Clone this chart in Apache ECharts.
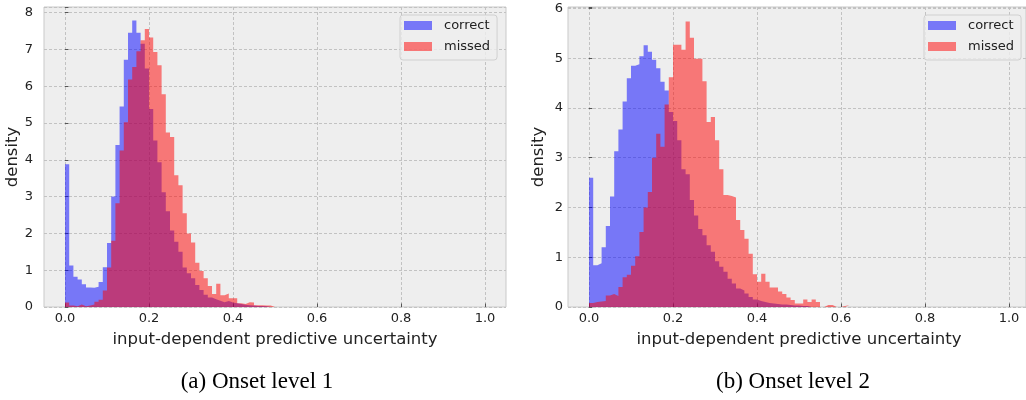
<!DOCTYPE html>
<html lang="en">
<head>
  <meta charset="UTF-8">
  <title>Onset uncertainty histograms</title>
  <style>
    html, body { margin: 0; padding: 0; background: #fff; }
    #main { width: 1026px; height: 400px; }
  </style>
</head>
<body>
  <div id="main"></div>
  <script src="https://cdn.jsdelivr.net/npm/echarts@6/dist/echarts.min.js"></script>
  <script>
    // density histograms, bins of width 0.01 starting at 0.0
    var binWidth = 0.01;
    var seriesNames = ['correct', 'missed'];
    var captions = ['(a) Onset level 1', '(b) Onset level 2'];
    var xName = 'input-dependent predictive uncertainty';
    var yName = 'density';
    var yMax = [8.15, 6.03];

    // (a) onset level 1
    var correct1 = [3.88, 1.13, 0.82, 0.75, 0.62, 0.53, 0.52, 0.55, 0.68, 1.08,
      1.74, 3.0, 4.4, 5.45, 6.72, 7.45, 7.78, 7.45, 7.15, 6.48,
      5.38, 4.52, 3.93, 3.12, 2.6, 2.08, 1.77, 1.5, 1.07, 0.92,
      0.78, 0.6, 0.46, 0.33, 0.26, 0.21, 0.17, 0.13, 0.16, 0.12,
      0.1, 0.08, 0.06, 0.05, 0.04, 0.03, 0.03, 0.02, 0.01];
    var missed1 = [0.12, 0.04, 0.02, 0.07, 0.02, 0.04, 0.07, 0.14, 0.2, 0.45,
      1.07, 1.8, 2.82, 4.25, 5.02, 6.18, 6.52, 6.95, 7.25, 7.55,
      7.32, 6.93, 6.57, 5.78, 4.74, 4.62, 3.58, 3.31, 2.55, 2.0,
      1.75, 1.2, 0.98, 0.78, 0.57, 0.35, 0.63, 0.32, 0.37, 0.24,
      0.24, 0.1, 0.08, 0.13, 0.12, 0.05, 0.05, 0.04, 0.04, 0, 0.04];

    // (b) onset level 2
    var correct2 = [2.6, 0.84, 0.88, 1.2, 1.63, 2.22, 3.13, 3.57, 4.13, 4.6,
      4.85, 4.88, 5.04, 5.26, 5.13, 4.97, 4.8, 4.53, 4.35, 3.92,
      3.74, 3.35, 2.77, 2.67, 2.15, 1.84, 1.57, 1.44, 1.24, 1.11,
      0.92, 0.81, 0.71, 0.57, 0.47, 0.37, 0.33, 0.27, 0.2, 0.15,
      0.12, 0.1, 0.08, 0.07, 0.06, 0.05, 0.05, 0.04, 0.03, 0.03,
      0.02, 0.02, 0.01];
    var missed2 = [0.08, 0.1, 0.11, 0.12, 0.23, 0.26, 0.22, 0.4, 0.6, 0.65,
      0.83, 1.02, 1.51, 2.0, 2.31, 3.0, 3.48, 3.22, 4.07, 4.62,
      5.27, 5.27, 5.17, 5.74, 5.41, 4.99, 4.99, 4.54, 3.72, 3.82,
      3.35, 2.77, 2.25, 2.23, 2.2, 1.75, 1.55, 1.37, 1.07, 0.66,
      0.51, 0.67, 0.51, 0.39, 0.39, 0.31, 0.26, 0.19, 0.14, 0.07,
      0.07, 0.15, 0.1, 0.15, 0.1, 0, 0.04, 0.04, 0, 0,
      0.02, 0.04];

    var blue = 'rgba(0,0,255,0.5)';
    var red = 'rgba(255,0,0,0.5)';
    var font = 'DejaVu Sans';

    // bin values -> step points [left edge, value], plus the closing right edge
    function toSteps(vals) {
      var pts = vals.map(function (v, i) {
        return [+(i * binWidth).toFixed(2), v];
      });
      pts.push([+(vals.length * binWidth).toFixed(2), vals[vals.length - 1]]);
      return pts;
    }

    var dashed = { color: '#c2c2c2', width: 1, type: [3, 2] };

    function frameGrid(left) {
      return { left: left, top: 7, width: 462, height: 300, show: true,
        backgroundColor: '#eeeeee', borderColor: '#c9c9c9', borderWidth: 1 };
    }
    function dataGrid(left) {
      return { left: left, top: 7, width: 420, height: 300 };
    }

    function frameX(gi) {
      return { type: 'value', gridIndex: gi, min: -0.05, max: 1.05, show: false };
    }
    function dataX(gi) {
      return {
        type: 'value', gridIndex: gi, min: 0, max: 1, interval: 0.2,
        name: xName, nameLocation: 'middle', nameGap: 24,
        nameTextStyle: { fontFamily: font, fontSize: 16.5, color: '#222' },
        axisLine: { show: false },
        axisTick: { show: true, inside: true, length: 3.5, lineStyle: { color: '#555' } },
        axisLabel: { margin: 5, fontFamily: font, fontSize: 13, color: '#222',
          formatter: function (v) { return v.toFixed(1); } },
        splitLine: { show: true, lineStyle: dashed }
      };
    }
    function frameY(gi, max, margin) {
      return {
        type: 'value', gridIndex: gi, min: 0, max: max, interval: 1,
        name: yName, nameLocation: 'middle', nameGap: 21,
        nameTextStyle: { fontFamily: font, fontSize: 16.5, color: '#222' },
        axisLine: { show: false },
        axisTick: { show: true, inside: true, length: 3.5, lineStyle: { color: '#555' } },
        axisLabel: { margin: margin, fontFamily: font, fontSize: 13, color: '#222',
          formatter: function (v) { return Number.isInteger(v) ? String(v) : ''; } },
        splitLine: { show: true, lineStyle: dashed }
      };
    }
    function dataY(gi, max) {
      return { type: 'value', gridIndex: gi, min: 0, max: max, show: false };
    }

    function hist(name, vals, color, axisIdx, z) {
      return {
        name: name, type: 'line', step: 'end',
        xAxisIndex: axisIdx, yAxisIndex: axisIdx,
        data: toSteps(vals), symbol: 'none', silent: true, z: z,
        color: color,
        lineStyle: { width: 0, opacity: 0 },
        itemStyle: { color: color },
        areaStyle: { color: color, opacity: 1 }
      };
    }

    function legendAt(left) {
      return {
        left: left, top: 15, orient: 'vertical', selectedMode: false,
        icon: 'rect', itemWidth: 28, itemHeight: 9, itemGap: 8,
        padding: [4, 7, 7, 4],
        backgroundColor: 'rgba(238,238,238,0.8)', borderColor: '#d0d0d0',
        borderWidth: 1, borderRadius: 3,
        data: [
          { name: seriesNames[0], itemStyle: { color: blue } },
          { name: seriesNames[1], itemStyle: { color: red } }
        ],
        textStyle: { fontFamily: font, fontSize: 13, color: '#222',
          lineHeight: 12, padding: [0, 0, 0, 7] }
      };
    }

    function caption(text, cx) {
      return { text: text, left: cx, top: 370, textAlign: 'center', padding: 0,
        textStyle: { fontFamily: 'Liberation Serif', fontSize: 23,
          fontWeight: 'normal', color: '#000' } };
    }

    var myChart = echarts.init(document.getElementById('main'));
    var option = {
      animation: false,
      backgroundColor: '#ffffff',
      title: [caption(captions[0], 257), caption(captions[1], 793)],
      legend: [legendAt(400), legendAt(924)],
      grid: [frameGrid(44), dataGrid(65), frameGrid(568), dataGrid(589)],
      xAxis: [frameX(0), dataX(1), frameX(2), dataX(3)],
      yAxis: [frameY(0, yMax[0], 11), dataY(1, yMax[0]),
        frameY(2, yMax[1], 5), dataY(3, yMax[1])],
      series: [
        hist(seriesNames[0], correct1, blue, 1, 2),
        hist(seriesNames[1], missed1, red, 1, 3),
        hist(seriesNames[0], correct2, blue, 3, 2),
        hist(seriesNames[1], missed2, red, 3, 3)
      ]
    };
    myChart.setOption(option);
  </script>
</body>
</html>
